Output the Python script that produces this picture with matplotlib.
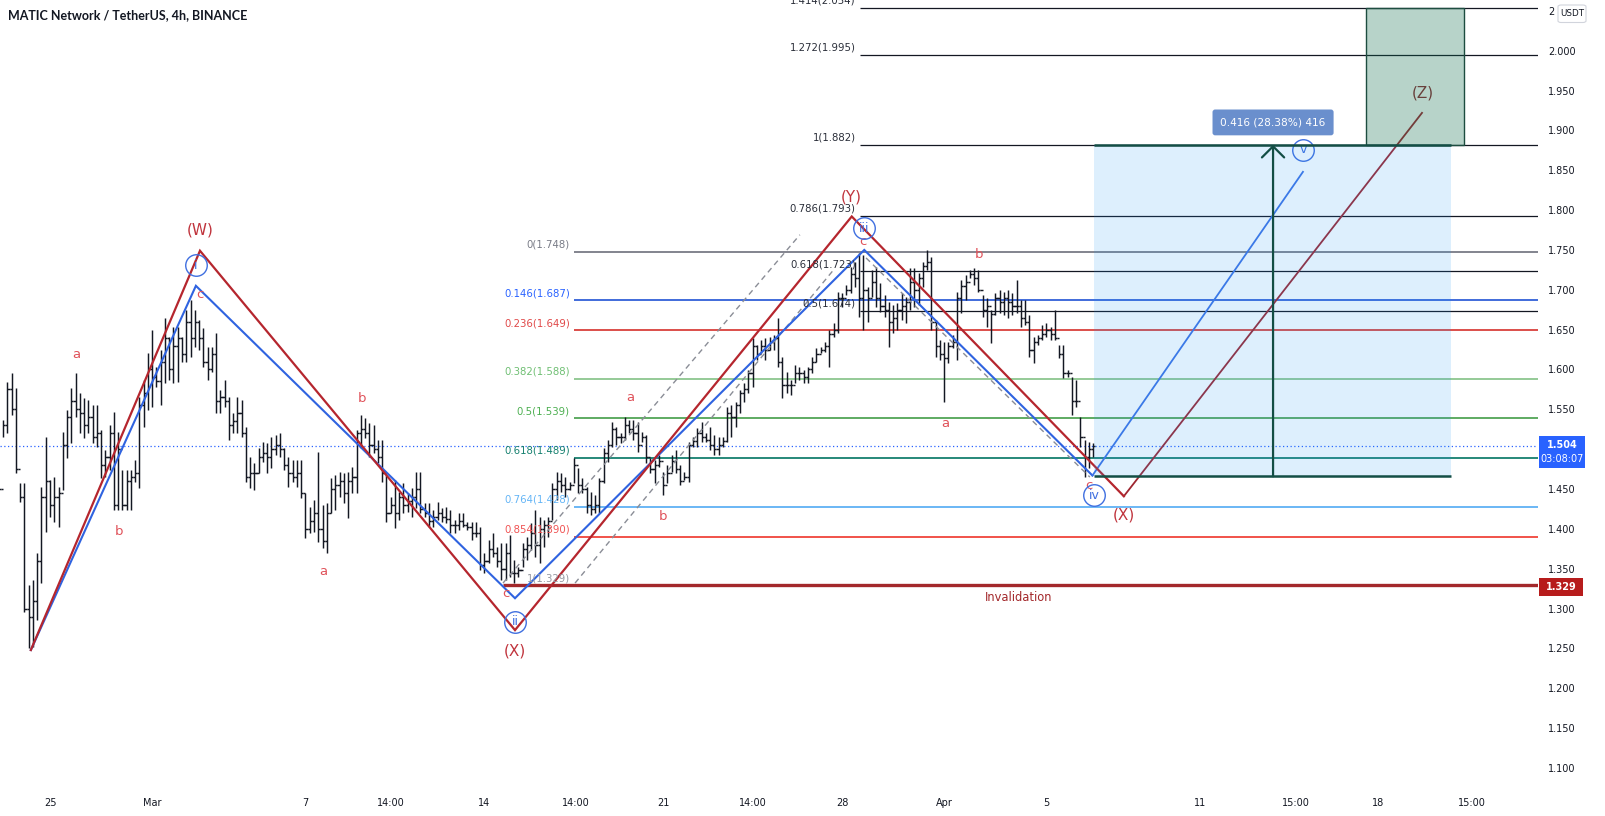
import matplotlib
matplotlib.use("Agg")
import matplotlib.pyplot as plt
from matplotlib.collections import LineCollection
from matplotlib.patches import Rectangle, FancyBboxPatch
import numpy as np

# ---------------- data ----------------
# time axis in days relative to 25 Feb 00:00, one bar every 4 hours
bar_start_day = -2.0
bar_step = 1.0 / 6.0

highs = [1.476,1.537,1.584,1.596,1.577,1.458,1.458,1.330,1.336,1.370,
         1.453,1.515,1.461,1.465,1.453,1.522,1.549,1.577,1.596,1.571,
         1.564,1.562,1.555,1.555,1.524,1.499,1.530,1.547,1.522,1.474,
         1.474,1.474,1.486,1.565,1.587,1.621,1.650,1.603,1.625,1.665,
         1.641,1.653,1.653,1.641,1.675,1.687,1.675,1.662,1.652,1.628,
         1.628,1.646,1.574,1.587,1.565,1.545,1.565,1.562,1.528,1.490,
         1.483,1.501,1.509,1.508,1.515,1.518,1.520,1.501,1.490,1.486,
         1.486,1.486,1.445,1.427,1.436,1.496,1.430,1.433,1.464,1.468,
         1.471,1.470,1.471,1.478,1.524,1.543,1.539,1.533,1.530,1.511,
         1.511,1.468,1.440,1.461,1.446,1.458,1.445,1.451,1.471,1.471,
         1.432,1.432,1.424,1.434,1.426,1.427,1.424,1.411,1.420,1.420,
         1.409,1.409,1.409,1.402,1.370,1.386,1.395,1.377,1.382,1.382,
         1.392,1.361,1.352,1.382,1.390,1.407,1.424,1.415,1.411,1.415,
         1.458,1.471,1.470,1.465,1.459,1.489,1.476,1.464,1.453,1.446,
         1.443,1.464,1.501,1.511,1.534,1.528,1.520,1.540,1.537,1.537,
         1.534,1.522,1.518,1.489,1.486,1.493,1.471,1.480,1.493,1.499,
         1.480,1.471,1.509,1.515,1.527,1.534,1.520,1.528,1.518,1.515,
         1.515,1.553,1.555,1.559,1.574,1.583,1.599,1.640,1.631,1.637,
         1.640,1.641,1.643,1.665,1.616,1.597,1.587,1.606,1.603,1.599,
         1.603,1.616,1.627,1.628,1.634,1.650,1.658,1.697,1.696,1.706,
         1.729,1.735,1.746,1.744,1.704,1.725,1.729,1.709,1.693,1.685,
         1.681,1.683,1.696,1.691,1.727,1.727,1.721,1.735,1.750,1.741,
         1.662,1.637,1.635,1.635,1.643,1.697,1.712,1.719,1.725,1.727,
         1.725,1.693,1.690,1.675,1.696,1.700,1.697,1.700,1.696,1.712,
         1.687,1.687,1.668,1.641,1.643,1.656,1.658,1.653,1.675,1.631,
         1.631,1.599,1.591,1.587,1.540,1.511,1.509,1.508]

lows = [1.442,1.515,1.520,1.543,1.470,1.434,1.296,1.251,1.252,1.286,
        1.332,1.396,1.415,1.409,1.402,1.449,1.489,1.508,1.540,1.520,
        1.514,1.520,1.508,1.503,1.464,1.465,1.474,1.424,1.424,1.424,
        1.424,1.424,1.459,1.451,1.528,1.549,1.553,1.578,1.555,1.583,
        1.587,1.583,1.584,1.609,1.609,1.616,1.628,1.625,1.603,1.587,
        1.597,1.545,1.545,1.553,1.512,1.520,1.520,1.515,1.459,1.451,
        1.449,1.470,1.484,1.470,1.476,1.493,1.490,1.474,1.453,1.459,
        1.453,1.439,1.389,1.395,1.396,1.384,1.376,1.370,1.420,1.424,
        1.440,1.432,1.414,1.445,1.445,1.501,1.514,1.490,1.495,1.483,
        1.459,1.409,1.420,1.401,1.411,1.420,1.421,1.415,1.426,1.420,
        1.415,1.402,1.402,1.411,1.409,1.407,1.395,1.395,1.399,1.402,
        1.399,1.386,1.390,1.348,1.345,1.357,1.365,1.352,1.336,1.336,
        1.340,1.332,1.340,1.352,1.361,1.374,1.365,1.357,1.377,1.390,
        1.411,1.436,1.446,1.440,1.449,1.458,1.445,1.445,1.420,1.417,
        1.420,1.420,1.458,1.484,1.503,1.505,1.508,1.511,1.520,1.511,
        1.496,1.509,1.483,1.470,1.458,1.478,1.443,1.458,1.471,1.470,
        1.455,1.461,1.459,1.503,1.503,1.509,1.509,1.499,1.493,1.493,
        1.503,1.509,1.515,1.528,1.545,1.559,1.571,1.578,1.612,1.621,
        1.612,1.625,1.625,1.603,1.564,1.571,1.568,1.583,1.587,1.583,
        1.583,1.596,1.609,1.621,1.622,1.603,1.641,1.646,1.678,1.693,
        1.696,1.703,1.666,1.650,1.660,1.691,1.678,1.672,1.666,1.628,
        1.646,1.650,1.662,1.658,1.675,1.678,1.681,1.703,1.725,1.650,
        1.616,1.612,1.559,1.608,1.627,1.612,1.671,1.687,1.715,1.706,
        1.697,1.666,1.653,1.633,1.668,1.671,1.668,1.665,1.668,1.671,
        1.653,1.656,1.616,1.608,1.631,1.637,1.641,1.637,1.637,1.614,
        1.589,1.591,1.543,1.553,1.503,1.465,1.476,1.490]

closes = [1.450,1.530,1.575,1.550,1.475,1.440,1.300,1.290,1.310,1.360,
          1.440,1.460,1.430,1.440,1.445,1.505,1.540,1.560,1.550,1.545,
          1.530,1.540,1.515,1.520,1.480,1.490,1.520,1.430,1.500,1.430,
          1.460,1.465,1.470,1.555,1.570,1.600,1.590,1.585,1.610,1.640,
          1.600,1.630,1.640,1.620,1.660,1.640,1.660,1.640,1.610,1.600,
          1.620,1.560,1.565,1.560,1.530,1.535,1.545,1.520,1.465,1.470,
          1.470,1.490,1.495,1.490,1.500,1.505,1.500,1.480,1.470,1.465,
          1.470,1.445,1.400,1.410,1.420,1.400,1.385,1.420,1.450,1.455,
          1.460,1.445,1.460,1.465,1.520,1.525,1.520,1.505,1.500,1.490,
          1.470,1.420,1.430,1.420,1.440,1.430,1.435,1.440,1.450,1.425,
          1.420,1.410,1.415,1.420,1.415,1.412,1.405,1.405,1.410,1.405,
          1.402,1.395,1.395,1.355,1.360,1.375,1.370,1.360,1.350,1.370,
          1.345,1.345,1.348,1.375,1.380,1.395,1.380,1.400,1.405,1.410,
          1.450,1.460,1.455,1.450,1.455,1.480,1.455,1.450,1.430,1.425,
          1.430,1.460,1.495,1.505,1.525,1.515,1.515,1.530,1.525,1.520,
          1.505,1.515,1.490,1.475,1.480,1.485,1.455,1.470,1.485,1.475,
          1.460,1.465,1.505,1.510,1.520,1.515,1.512,1.505,1.500,1.505,
          1.510,1.545,1.540,1.555,1.570,1.575,1.595,1.630,1.620,1.630,
          1.625,1.635,1.640,1.610,1.580,1.580,1.580,1.595,1.595,1.590,
          1.600,1.610,1.620,1.625,1.630,1.645,1.650,1.690,1.690,1.700,
          1.720,1.715,1.690,1.700,1.690,1.710,1.690,1.680,1.675,1.660,
          1.665,1.675,1.680,1.685,1.710,1.700,1.715,1.730,1.735,1.660,
          1.630,1.620,1.615,1.630,1.635,1.690,1.705,1.710,1.720,1.715,
          1.700,1.675,1.680,1.670,1.690,1.685,1.690,1.685,1.680,1.680,
          1.665,1.660,1.625,1.635,1.640,1.645,1.650,1.645,1.640,1.620,
          1.595,1.595,1.560,1.560,1.515,1.490,1.500,1.504]
first_open = 1.460

# Fibonacci retracement (set 1)
fib1_levels = [1.748, 1.687, 1.649, 1.588, 1.539, 1.489, 1.428, 1.390]
fib1_labels = ["0(1.748)", "0.146(1.687)", "0.236(1.649)", "0.382(1.588)",
               "0.5(1.539)", "0.618(1.489)", "0.764(1.428)", "0.854(1.390)"]
fib1_line_colors = ["#787b86", "#3160d8", "#d9403c", "#8cc68f",
                    "#52a556", "#157f6e", "#5fb1f5", "#f0443a"]
fib1_text_colors = ["#787b86", "#2962ff", "#e04848", "#6fbf73",
                    "#4caf50", "#15806f", "#64b5f6", "#f05353"]
fib1_start_day = 20.51
invalidation_level = 1.329
invalidation_start_day = 17.73

# Fibonacci extension (set 2)
fib2_levels = [1.793, 1.723, 1.674, 1.882, 1.995, 2.054]
fib2_labels = ["0.786(1.793)", "0.618(1.723)", "0.5(1.674)", "1(1.882)",
               "1.272(1.995)", "1.414(2.054)"]
fib2_start_day = 31.70

# Elliott wave paths
red_days = [-0.75, 5.87, 18.2, 31.38, 42.03]
red_prices = [1.248, 1.749, 1.273, 1.792, 1.441]
red_z_days = [42.03, 53.70]
red_z_prices = [1.441, 1.922]
blue_days = [-0.75, 5.71, 18.2, 31.87, 40.8]
blue_prices = [1.248, 1.705, 1.313, 1.750, 1.467]
blue_v_days = [40.8, 49.04]
blue_v_prices = [1.467, 1.848]

# dashed channel lines
dash_days = [(17.73, 29.35), (20.55, 30.72), (31.94, 40.70)]
dash_prices = [(1.332, 1.769), (1.332, 1.727), (1.740, 1.465)]

last_price = 1.504
countdown = "03:08:07"
range_start_day, range_end_day = 40.86, 54.83
range_low, range_high = 1.466, 1.882
range_arrow_day = 47.87
range_text = "0.416 (28.38%) 416"
target_box_days = (51.5, 55.34)
target_box_prices = (1.882, 2.054)

xtick_days = [0, 4, 10, 13.35, 17, 20.57, 24, 27.5, 31, 35, 39, 45, 48.75, 52, 55.65]
xtick_labels = ["25", "Mar", "7", "14:00", "14", "14:00", "21", "14:00", "28",
                "Apr", "5", "11", "15:00", "18", "15:00"]
ytick_values = [1.10, 1.15, 1.20, 1.25, 1.30, 1.35, 1.40, 1.45, 1.55, 1.60,
                1.65, 1.70, 1.75, 1.80, 1.85, 1.90, 1.95, 2.00, 2.05]
ytick_labels = ["1.100", "1.150", "1.200", "1.250", "1.300", "1.350", "1.400", "1.450",
                "1.550", "1.600", "1.650", "1.700", "1.750", "1.800", "1.850", "1.900",
                "1.950", "2.000", "2"]

# ---------------- figure ----------------
W, H = 1606, 816
fig = plt.figure(figsize=(W / 100, H / 100), dpi=100)
fig.patch.set_facecolor("white")
ax = fig.add_axes([0, 28 / H, 1538 / W, 788 / H])
ax.set_xlim(-1.957, 58.24)
ax.set_ylim(1.0749, 2.0636)
XMAX = 58.24
for s in ax.spines.values():
    s.set_visible(False)

TXT = "#131722"
RED = "#b5262e"
LRED = "#e0525a"
BLUE = "#2f63e0"

# OHLC bars
n = len(highs)
t = bar_start_day + np.arange(n) * bar_step
opens = [first_open] + closes[:-1]
tk = 0.085
segs = []
for i in range(n):
    segs.append([(t[i], lows[i]), (t[i], highs[i])])
    segs.append([(t[i] - tk, opens[i]), (t[i], opens[i])])
    segs.append([(t[i], closes[i]), (t[i] + tk, closes[i])])
ax.add_collection(LineCollection(segs, colors=TXT, linewidths=1.05, zorder=2))

# fib set 1
for lv, lab_, lc, tc in zip(fib1_levels, fib1_labels, fib1_line_colors, fib1_text_colors):
    ax.hlines(lv, fib1_start_day, XMAX, colors=lc, lw=1.3, zorder=1)
    ax.annotate(lab_, xy=(fib1_start_day, lv), xytext=(-3, 1.5), textcoords="offset points",
                ha="right", va="bottom", fontsize=7.3, color=tc, zorder=5)
ax.hlines(invalidation_level, invalidation_start_day, XMAX, colors="#a3282b", lw=2.4, zorder=1)
ax.annotate("1(1.329)", xy=(fib1_start_day, invalidation_level), xytext=(-3, 1.5),
            textcoords="offset points", ha="right", va="bottom", fontsize=7.3,
            color="#9598a1", zorder=5)
ax.text(37.93, 1.3145, "Invalidation", ha="center", va="center", fontsize=8.3,
        color="#a3282b", zorder=5)

# fib set 2
for lv, lab_ in zip(fib2_levels, fib2_labels):
    ax.hlines(lv, fib2_start_day, XMAX, colors=TXT, lw=0.9, zorder=1)
    ax.annotate(lab_, xy=(fib2_start_day, lv), xytext=(-3, 1.5), textcoords="offset points",
                ha="right", va="bottom", fontsize=7.3, color="#2a2e39", zorder=5)

# last price dotted line
ax.axhline(last_price, color="#2962ff", lw=0.9, ls=(0, (1, 2)), zorder=1)

# dashed channels
for dd, pp in zip(dash_days, dash_prices):
    ax.plot(dd, pp, color="#8a8d96", lw=1.0, ls=(0, (4, 3)), zorder=2.5)

# zigzags
ax.plot(blue_days, blue_prices, color=BLUE, lw=1.5, zorder=3, solid_joinstyle="miter")
ax.plot(red_days, red_prices, color=RED, lw=1.6, zorder=3.1, solid_joinstyle="miter")
ax.plot(blue_v_days, blue_v_prices, color="#3f74e6", lw=1.3, zorder=3)
ax.plot(red_z_days, red_z_prices, color="#9e2630", lw=1.3, zorder=3)

# wave labels
def lab(x, y, s, color, size):
    ax.text(x, y, s, ha="center", va="center", fontsize=size, color=color, zorder=3.5)

for x, y, s in [(5.86, 1.7745, "(W)"), (18.2, 1.2468, "(X)"), (31.38, 1.8168, "(Y)"),
                (42.03, 1.4174, "(X)")]:
    lab(x, y, s, "#c0343d", 11)
lab(53.72, 1.9465, "(Z)", "#8e2b33", 11)
for x, y, s in [(1.04, 1.6182, "a"), (2.70, 1.3965, "b"), (5.87, 1.6935, "c"),
                (10.70, 1.3463, "a"), (12.20, 1.5638, "b"), (17.85, 1.3192, "c"),
                (22.70, 1.5646, "a"), (24.0, 1.4153, "b"), (31.83, 1.7604, "c"),
                (35.03, 1.5325, "a"), (36.37, 1.7449, "b"), (40.68, 1.455, "c")]:
    lab(x, y, s, LRED, 9.5)
for x, y, s in [(5.71, 1.731, "i"), (18.2, 1.2836, "ii"), (31.87, 1.777, "iii"),
                (40.87, 1.4425, "iv"), (49.04, 1.8754, "v")]:
    ax.plot([x], [y], "o", ms=15.5, mfc="none", mec="#3f6fe0", mew=1.0, zorder=3.5)
    lab(x, y, s, "#3f6fe0", 9)

# price range tool
ax.add_patch(Rectangle((range_start_day, range_low), range_end_day - range_start_day,
                       range_high - range_low, facecolor="#2196f3", alpha=0.15,
                       edgecolor="none", zorder=4))
ax.add_patch(Rectangle((target_box_days[0], target_box_prices[0]),
                       target_box_days[1] - target_box_days[0],
                       target_box_prices[1] - target_box_prices[0],
                       facecolor="#12704f", alpha=0.3, edgecolor="none", zorder=4))
ax.add_patch(Rectangle((target_box_days[0], target_box_prices[0]),
                       target_box_days[1] - target_box_days[0],
                       target_box_prices[1] - target_box_prices[0],
                       facecolor="none", edgecolor="#1d4d40", lw=1.0, zorder=4.2))
TEAL = "#134e45"
ax.hlines([range_low, range_high], range_start_day, range_end_day, colors=TEAL, lw=1.8, zorder=6)
ax.annotate("", xy=(range_arrow_day, range_high), xytext=(range_arrow_day, range_low),
            arrowprops=dict(arrowstyle="->,head_length=0.4,head_width=0.4", color=TEAL,
                            lw=1.6, mutation_scale=20, shrinkA=0, shrinkB=0), zorder=6)
ax.text(range_arrow_day, 1.910, range_text, ha="center", va="center", fontsize=7.6,
        color="white", zorder=7,
        bbox=dict(boxstyle="round,pad=0.75,rounding_size=0.25", facecolor="#6a8fcd",
                  edgecolor="none"))

# axes ticks
ax.set_xticks(xtick_days)
ax.set_xticklabels(xtick_labels)
ax.tick_params(axis="x", length=0, pad=7, labelsize=7, colors=TXT)
ax.yaxis.tick_right()
ax.set_yticks(ytick_values)
ax.set_yticklabels(ytick_labels)
ax.tick_params(axis="y", length=0, pad=7.5, labelsize=7, colors=TXT)

# title
fig.text(8 / W, 1 - 15 / H, "MATIC Network / TetherUS, 4h, BINANCE", ha="left",
         va="center", fontsize=9, fontweight="bold", family="Lato", color=TXT)

# right-scale price boxes (figure pixel placement)
def fx(x):
    return x / W
def fy(y):
    return 1 - y / H

fig.patches.append(Rectangle((fx(1539), fy(468)), (1585.5 - 1539) / W, 32 / H,
                             transform=fig.transFigure, facecolor="#2962ff",
                             edgecolor="none", zorder=10))
fig.text(fx(1562), fy(445), f"{last_price:.3f}", ha="center", va="center", fontsize=7,
         fontweight="bold", color="white", zorder=11)
fig.text(fx(1562), fy(459), countdown, ha="center", va="center", fontsize=7,
         color="white", zorder=11)
fig.patches.append(Rectangle((fx(1539), fy(596)), 44 / W, 18.5 / H,
                             transform=fig.transFigure, facecolor="#b71c1c",
                             edgecolor="none", zorder=10))
fig.text(fx(1561), fy(587), f"{invalidation_level:.3f}", ha="center", va="center",
         fontsize=7, fontweight="bold", color="white", zorder=11)
fig.patches.append(FancyBboxPatch((fx(1558), fy(22.5)), 28 / W, 17.5 / H,
                                  boxstyle="round,pad=0,rounding_size=0.002",
                                  transform=fig.transFigure, facecolor="white",
                                  edgecolor="#d1d4dc", lw=0.8, zorder=10))
fig.text(fx(1572), fy(14), "USDT", ha="center", va="center", fontsize=6.3,
         color=TXT, zorder=11)

fig.savefig("out.png", dpi=100, facecolor="white")
